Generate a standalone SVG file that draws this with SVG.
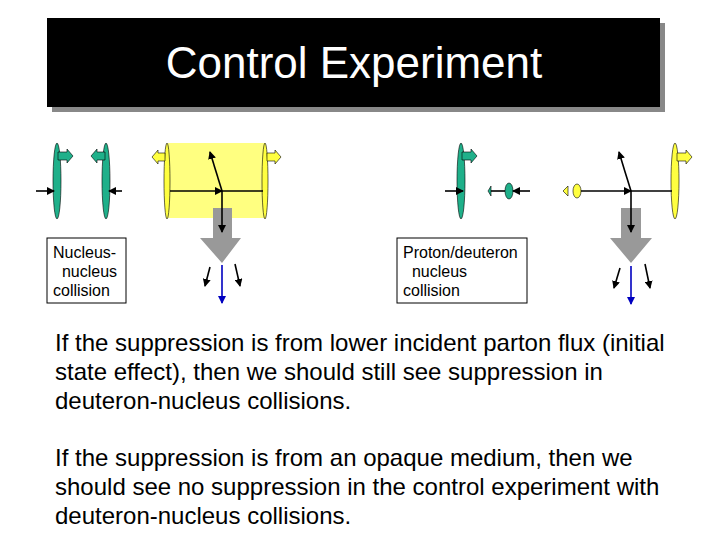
<svg xmlns="http://www.w3.org/2000/svg" width="720" height="540" viewBox="0 0 720 540">
<defs>
<marker id="ah" markerWidth="8" markerHeight="8" refX="7" refY="4" orient="auto" markerUnits="userSpaceOnUse"><path d="M0,0 L8,4 L0,8 Z" fill="#000"/></marker>
<marker id="ab" markerWidth="8" markerHeight="8" refX="7" refY="4" orient="auto" markerUnits="userSpaceOnUse"><path d="M0,0 L8,4 L0,8 Z" fill="#0000c0"/></marker>
<style>
.t{font-family:"Liberation Sans",Arial,sans-serif;font-size:24px;fill:#000}
.s{font-family:"Liberation Sans",Arial,sans-serif;font-size:16px;fill:#000}
.ln{stroke:#000;stroke-width:1.6;fill:none}
.g{fill:#1fb08a;stroke:#000;stroke-width:0.6}
.y{fill:#ffff40;stroke:#000;stroke-width:0.6}
.gr{fill:#999}
</style>
</defs>
<rect width="720" height="540" fill="#fff"/>
<g id="title">
<rect x="52" y="23" width="613" height="89" fill="#888"/>
<rect x="47" y="18" width="613" height="89" fill="#000"/>
<text x="354" y="78" text-anchor="middle" font-family="Liberation Sans,Arial,sans-serif" font-size="44" fill="#fff">Control Experiment</text>
</g>
<g id="nucleus1">
<ellipse class="g" cx="57" cy="181" rx="4" ry="38"/>
<path class="g" d="M58,152 H67 V149 L73,156 L67,163 V160 H58 Z"/>
</g>
<g id="nucleus2">
<ellipse class="g" cx="106" cy="181" rx="4" ry="38"/>
<path class="g" d="M105,152 H97 V149 L91,156 L97,163 V160 H105 Z"/>
</g>
<g id="medium1">
<rect x="168" y="143" width="97" height="75" fill="#ffff80"/>
<ellipse class="y" cx="167" cy="181" rx="3" ry="38"/>
<ellipse class="y" cx="265" cy="181" rx="3" ry="38"/>
<path class="y" d="M165,153 H158 V150 L152,157 L158,164 V161 H165 Z"/>
<path class="y" d="M267,153 H275 V150 L281,157 L275,164 V161 H267 Z"/>
<path class="gr" d="M213,208 H232 V238 H241 L222,263 L200,238 H213 Z"/>
</g>
<g id="medium2">
<ellipse class="g" cx="461" cy="181" rx="4" ry="38"/>
<path class="g" d="M462,152 H471 V149 L477,156 L471,163 V160 H462 Z"/>
<ellipse class="g" cx="509" cy="191" rx="4" ry="8"/>
<path class="g" d="M491,186 L488,191 L491,196 Z"/>
<ellipse class="y" cx="577" cy="191" rx="4" ry="7"/>
<path class="y" d="M568,186 L563,191 L568,196 Z"/>
<ellipse class="y" cx="675" cy="181" rx="4" ry="38"/>
<path class="y" d="M677,153 H686 V150 L692,157 L686,164 V161 H677 Z"/>
<path class="gr" d="M621,208 H641 V238 H652 L631,263 L610,238 H621 Z"/>
</g>
<g id="connectors">
<line class="ln" x1="36" y1="191" x2="54" y2="191" marker-end="url(#ah)"/>
<line class="ln" x1="122" y1="191" x2="109" y2="191" marker-end="url(#ah)"/>
<line class="ln" x1="170" y1="191" x2="222" y2="191" marker-end="url(#ah)"/>
<line class="ln" x1="222" y1="191" x2="263" y2="191"/>
<line class="ln" x1="222" y1="191" x2="210" y2="152" marker-end="url(#ah)"/>
<line class="ln" x1="222" y1="191" x2="222" y2="232" marker-end="url(#ah)"/>
<line class="ln" x1="210" y1="267" x2="205" y2="286" marker-end="url(#ah)"/>
<line class="ln" x1="235" y1="264" x2="240" y2="286" marker-end="url(#ah)"/>
<line x1="222" y1="265" x2="222" y2="303" stroke="#0000c0" stroke-width="1.6" marker-end="url(#ab)"/>
<line class="ln" x1="445" y1="191" x2="463" y2="191" marker-end="url(#ah)"/>
<line class="ln" x1="491" y1="191" x2="505" y2="191"/>
<line class="ln" x1="530" y1="191" x2="513" y2="191" marker-end="url(#ah)"/>
<line class="ln" x1="581" y1="191" x2="631" y2="191" marker-end="url(#ah)"/>
<line class="ln" x1="631" y1="191" x2="672" y2="191"/>
<path class="ln" d="M631,191 Q625,172 619,152" marker-end="url(#ah)"/>
<line class="ln" x1="631" y1="191" x2="631" y2="232" marker-end="url(#ah)"/>
<line class="ln" x1="620" y1="268" x2="614" y2="288" marker-end="url(#ah)"/>
<line class="ln" x1="645" y1="264" x2="650" y2="288" marker-end="url(#ah)"/>
<line x1="631" y1="266" x2="631" y2="304" stroke="#0000c0" stroke-width="1.6" marker-end="url(#ab)"/>
</g>
<g id="label1">
<rect x="47" y="238" width="79" height="65" fill="#fff" stroke="#000" stroke-width="1"/>
<text class="s" x="53" y="258">Nucleus-</text>
<text class="s" x="53" y="277" xml:space="preserve">  nucleus</text>
<text class="s" x="53" y="296">collision</text>
</g>
<g id="label2">
<rect x="397" y="238" width="130" height="65" fill="#fff" stroke="#000" stroke-width="1"/>
<text class="s" x="403" y="258">Proton/deuteron</text>
<text class="s" x="403" y="277" xml:space="preserve">  nucleus</text>
<text class="s" x="403" y="296">collision</text>
</g>
<g id="body">
<text class="t" x="55" y="351">If the suppression is from lower incident parton flux (initial</text>
<text class="t" x="55" y="380">state effect), then we should still see suppression in</text>
<text class="t" x="55" y="409">deuteron-nucleus collisions.</text>
<text class="t" x="55" y="466">If the suppression is from an opaque medium, then we</text>
<text class="t" x="55" y="495">should see no suppression in the control experiment with</text>
<text class="t" x="55" y="524">deuteron-nucleus collisions.</text>
</g>
</svg>
